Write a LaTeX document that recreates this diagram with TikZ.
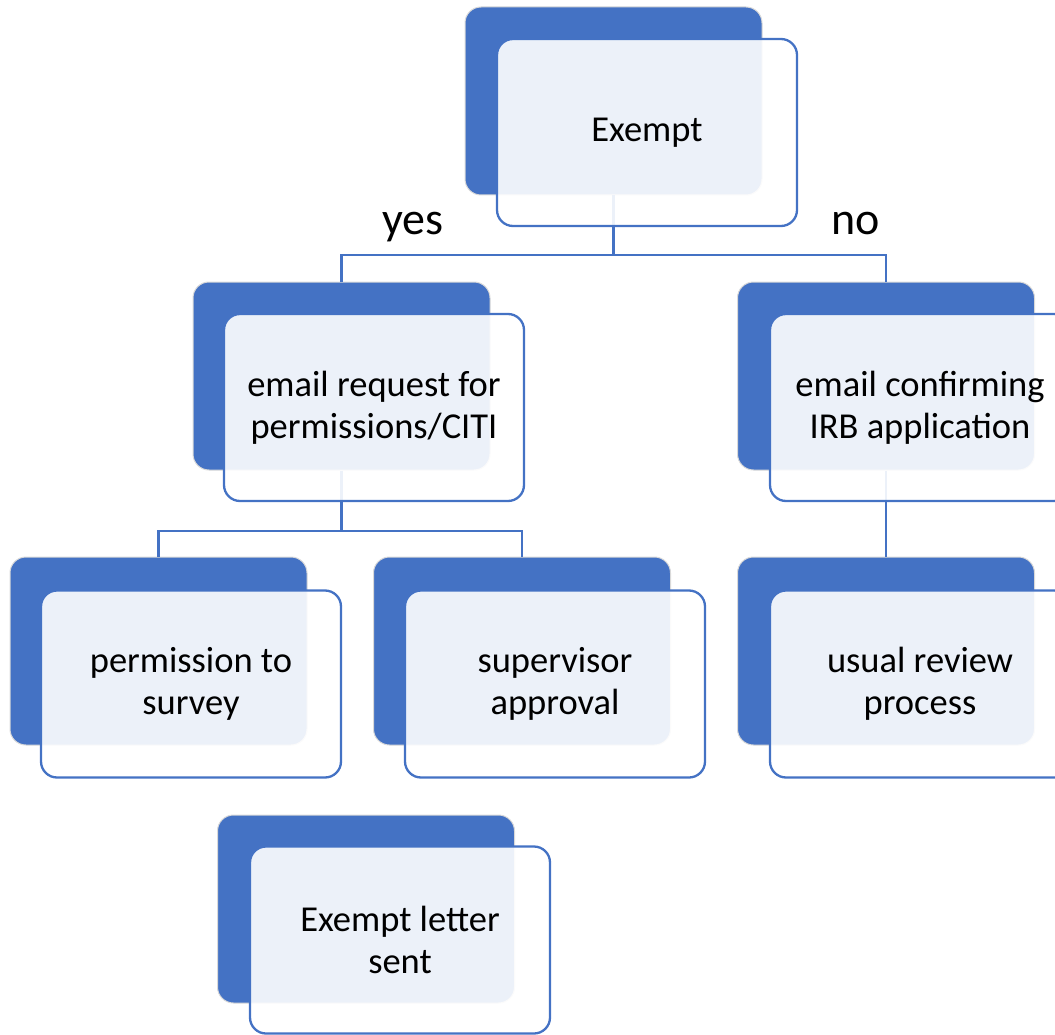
\documentclass[tikz,border=0pt]{standalone}
\usepackage{fontspec}
\setmainfont{Carlito}
\definecolor{accblue}{HTML}{4472C4}
\definecolor{edgegray}{HTML}{D9D9D9}
\begin{document}
\begin{tikzpicture}[x=1pt,y=-1pt,
  backbox/.style={rectangle, rounded corners=16pt, fill=accblue, draw=edgegray, line width=1pt,
    minimum width=297pt, minimum height=188pt, inner sep=0pt},
  frontbox/.style={rectangle, rounded corners=16pt, fill=white, fill opacity=0.9, text opacity=1,
    draw=accblue, line width=2.3pt, minimum width=300pt, minimum height=187pt, inner sep=0pt,
    align=center, font=\fontsize{36.5}{42}\selectfont},
  conn/.style={draw=accblue, line width=2.3pt},
  lbl/.style={font=\fontsize{46}{52}\selectfont, inner sep=0pt, anchor=base}]
\useasboundingbox (0,0) rectangle (1055,1035);
\begin{scope}
\clip (0,0) rectangle (1055,1035);
% back boxes
\node[backbox] (b0) at (613.5,101) {};
\node[backbox] (b1) at (341.5,376) {};
\node[backbox] (b2) at (886,376) {};
\node[backbox] (b3) at (158.5,651) {};
\node[backbox] (b4) at (522,651) {};
\node[backbox] (b5) at (886,651) {};
\node[backbox] (b6) at (366,909) {};
% connectors
\coordinate (j0) at (613.5,255);
\coordinate (j1) at (341.5,531);
\draw[conn] (b0.south) -- (j0) -| (b1.north);
\draw[conn] (j0) -| (b2.north);
\draw[conn] (b1.south) -- (j1) -| (b3.north);
\draw[conn] (j1) -| (b4.north);
\draw[conn] (b2.south) -- (b5.north);
% front boxes
\node[frontbox] (f0) at (647,132.5) {\raisebox{-3pt}{Exempt}};
\node[frontbox] (f1) at (374,407.5) {email request for\\permissions/CITI};
\node[frontbox] (f2) at (920,407.5) {email confirming\\IRB application};
\node[frontbox] (f3) at (191,684) {permission to\\survey};
\node[frontbox] (f4) at (555,684) {supervisor\\approval};
\node[frontbox] (f5) at (920,684) {usual review\\process};
\node[frontbox] (f6) at (400,940) {Exempt letter\\sent};
% labels
\node[lbl] (yes) at (413,235) {yes};
\node[lbl] (no) at (856,235) {no};
\end{scope}
\end{tikzpicture}
\end{document}
